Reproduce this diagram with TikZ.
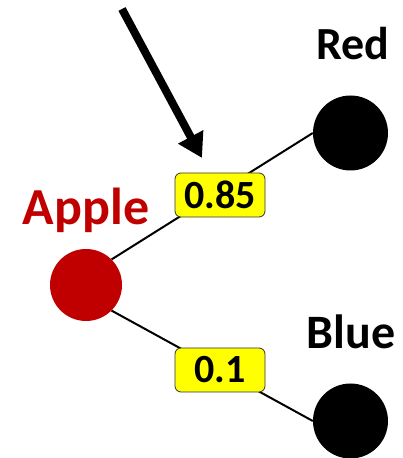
\documentclass[tikz,border=0pt]{standalone}
\usepackage{fontspec}
\setmainfont{Carlito}
\usepackage{tikz}
\usetikzlibrary{positioning,arrows.meta}

\begin{document}
\begin{tikzpicture}[x=1pt,y=1pt]
	\definecolor{applered}{RGB}{192,0,0}
	\definecolor{probyellow}{RGB}{255,255,0}
	\tikzset{
		fruit/.style={
			circle, fill=applered, minimum size=72pt, inner sep=0pt
		},
		leaf/.style={
			circle, fill=black, minimum size=75pt, inner sep=0pt
		},
		catname/.style={
			font=\fontsize{#1}{#1}\selectfont\bfseries, anchor=base
		},
		prob/.style={
			draw=black!80, line width=0.8pt, fill=probyellow,
			rounded corners=6pt, minimum width=90pt, minimum height=44pt,
			inner sep=0pt, font=\fontsize{40}{40}\selectfont\bfseries
		},
		branch/.style={
			draw=black, line width=2pt
		},
		pointer/.style={
			-{Triangle[length=24pt,width=27pt]},
			draw=black, line width=8pt
		}
	}
	\useasboundingbox (0,0) rectangle (402,458);

	% ======= nodes =======
	\node[fruit] (apple) at ( 86,173) {};
	\node[leaf]  (red)   at (350.5,325) {};
	\node[leaf]  (blue)  at (350.5, 37) {};

	\node[catname=52, text=applered] (tapple) at ( 86,233) {Apple};
	\node[catname=46] (tred)  at (353,398) {Red};
	\node[catname=48] (tblue) at (351,109) {Blue};

	% ======= branches =======
	\draw[branch] (apple.north east) -- (red.west);
	\draw[branch] (apple.south east) -- (blue.west);

	\node[prob] (p1) at (220,263) {0.85};
	\node[prob] (p2) at (220, 88) {0.1};

	% ======= arrow onto the label =======
	\coordinate (tail) at (122,449);
	\coordinate (tip)  at (202,300);
	\draw[pointer] (tail) -- (tip);

\end{tikzpicture}
\end{document}
